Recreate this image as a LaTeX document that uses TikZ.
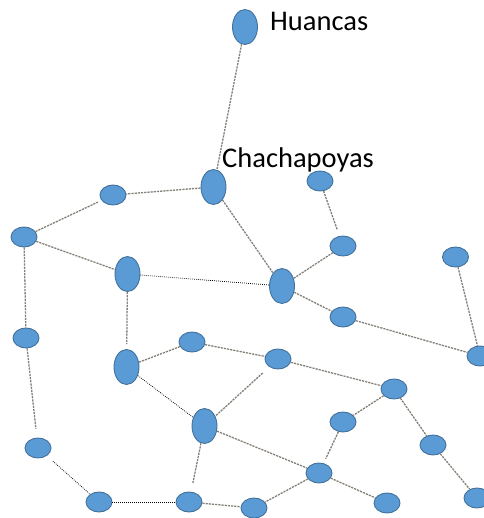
\documentclass[tikz,border=0pt]{standalone}
\usepackage{fontspec}
\setmainfont{Carlito}
\usetikzlibrary{shapes.geometric}
\begin{document}
\begin{tikzpicture}[x=1pt,y=-1pt,
  city/.style={ellipse,draw=nodeborder,fill=nodefill,line width=0.9pt,inner sep=0pt,minimum width=26pt,minimum height=20pt},
  tall/.style={city,minimum width=25pt,minimum height=35pt},
  road/.style={draw=roadgray,line width=1.3pt,dash pattern=on 2.2pt off 1pt},
  path2/.style={draw=black,line width=0.75pt,dash pattern=on 0.8pt off 1.2pt},
  lbl/.style={inner sep=0pt,anchor=base west,font=\fontsize{28.5}{31}\selectfont}]
\definecolor{nodefill}{HTML}{5B9BD5}
\definecolor{nodeborder}{HTML}{41719C}
\definecolor{roadgray}{HTML}{858078}
\useasboundingbox (0,0) rectangle (483,518);
% nodes
\node[tall] (hu) at (245,27) {};
\node[tall] (ch) at (213.5,187) {};
\node[city] (A) at (113,195) {};
\node[city] (B) at (24,237) {};
\node[tall] (C) at (127.5,274) {};
\node[tall] (D) at (282,286) {};
\node[city] (E) at (320,181) {};
\node[city] (F) at (343,246) {};
\node[city] (G) at (455.5,257) {};
\node[city] (H) at (343,317) {};
\node[city] (I) at (480,356) {};
\node[city] (J) at (26,338) {};
\node[tall] (K) at (126.5,367) {};
\node[city] (L) at (192,342) {};
\node[city] (M) at (278,359) {};
\node[city] (N) at (394,389) {};
\node[tall] (O) at (204.5,426) {};
\node[city] (P) at (343,422) {};
\node[city] (Q) at (433,445) {};
\node[city] (R) at (38,448) {};
\node[city] (S) at (99,502) {};
\node[city] (T) at (189,502) {};
\node[city] (U) at (254,508) {};
\node[city] (V) at (319,473) {};
\node[city] (W) at (387,503) {};
\node[city] (X) at (477,498) {};
% labels
\node[lbl] (lhu) at (270,30.5) {Huancas};
\node[lbl] (lch) at (222,168) {Chachapoyas};
% roads
\draw[road] (hu) -- (ch);
\draw[road] (ch) -- (A);
\draw[road,shorten >=4pt] (B) -- (A);
\draw[road] (B) -- (C);
\draw[road] (B) -- (J);
\draw[road,shorten >=9pt] (J) -- (R);
\draw[road,shorten >=5pt] (C) -- (K);
\draw[road] (ch) -- (D);
\draw[road] (D) -- (F);
\draw[road,shorten >=7pt] (E) -- (F);
\draw[road] (D) -- (H);
\draw[road] (H) -- (I);
\draw[road] (G) -- (I);
\draw[road] (K) -- (L);
\draw[road] (L) -- (M);
\draw[road] (M) -- (N);
\draw[road,shorten <=9pt] (M) -- (O);
\draw[road] (O) -- (V);
\draw[road,shorten >=8pt] (O) -- (T);
\draw[road] (N) -- (P);
\draw[road,shorten >=5pt] (P) -- (V);
\draw[road] (N) -- (Q);
\draw[road] (Q) -- (X);
\draw[road] (V) -- (U);
\draw[road] (V) -- (W);
\draw[road] (T) -- (U);
% dotted black paths
\draw[path2] (C) -- (D);
\draw[path2] (K) -- (O);
\draw[path2,shorten <=8pt] (R) -- (S);
\draw[path2] (S) -- (T);
\end{tikzpicture}
\end{document}
